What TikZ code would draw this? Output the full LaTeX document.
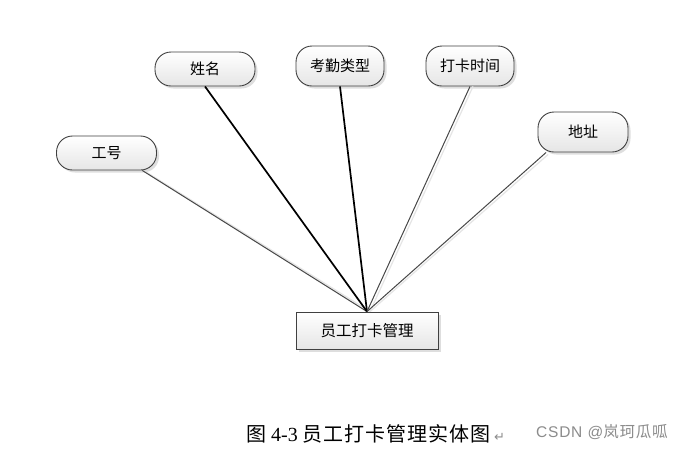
\documentclass[tikz,border=0pt]{standalone}
\usepackage{fontspec}
\setmainfont{Liberation Serif}
\newfontfamily\cjk{Noto Sans CJK SC}
\newfontfamily\wmfont{Liberation Sans}
\newfontfamily\symfont{DejaVu Sans}
\usetikzlibrary{shadows}
\begin{document}
\begin{tikzpicture}[x=1pt,y=-1pt,
  attr/.style={draw=black!75, line width=0.9pt, rounded corners=16pt,
    top color=white, bottom color=black!10, inner sep=0pt,
    font=\cjk\fontsize{15}{17}\selectfont,
    drop shadow={shadow xshift=2.5pt, shadow yshift=-2.5pt, fill=black!25, opacity=.5}},
  entity/.style={draw=black!75, line width=0.9pt, rectangle,
    top color=white, bottom color=black!10, inner sep=0pt,
    minimum width=142pt, minimum height=37pt,
    font=\cjk\fontsize{15.5}{17}\selectfont,
    drop shadow={shadow xshift=2.5pt, shadow yshift=-2.5pt, fill=black!25, opacity=.5}},
  thinlink/.style={draw=black!72, line width=1pt},
  thicklink/.style={draw=black, line width=1.7pt},
  shadowlink/.style={draw=black!10, line width=1.2pt}
]
\useasboundingbox (0,0) rectangle (687,448);
\fill[white] (0,0) rectangle (687,448);

\node[attr, minimum width=100pt, minimum height=34pt] (gh) at (106.5,153) {工号};
\node[attr, minimum width=100pt, minimum height=34pt] (xm) at (205,69) {姓名};
\node[attr, minimum width=88pt, minimum height=40pt] (kq) at (340,66) {考勤类型};
\node[attr, minimum width=88pt, minimum height=40pt] (dk) at (470,66) {打卡时间};
\node[attr, minimum width=90pt, minimum height=40pt] (dz) at (583,132) {地址};
\node[entity] (main) at (367,330.5) {员工打卡管理};

\coordinate (hub) at (main.north);

% light shadows of the connectors
\draw[shadowlink] ([xshift=3pt,yshift=-1pt]gh.-26) -- ([xshift=3pt]hub);
\draw[shadowlink] ([xshift=3pt]dk.south) -- ([xshift=3pt]hub);
\draw[shadowlink] ([xshift=2pt,yshift=-2pt]dz.209) -- ([xshift=3pt]hub);

\draw[thinlink] (gh.-26) -- (hub);
\draw[thicklink] (xm.south) -- (hub);
\draw[thicklink] (kq.south) -- (hub);
\draw[thinlink] (dk.south) -- (hub);
\draw[thinlink] (dz.209) -- (hub);

\node[anchor=west, inner sep=0pt, font=\fontsize{20}{22}\selectfont] (cap) at (246,434)
  {{\cjk 图} 4-3 {\cjk\addfontfeatures{LetterSpace=5} 员工打卡管理实体图}\,{\symfont\color{black!45}\fontsize{13}{15}\selectfont ↵}};
\node[anchor=west, inner sep=0pt, text=black!45, font=\fontsize{15.5}{17}\selectfont] (wm) at (536,432)
  {{\wmfont\addfontfeatures{LetterSpace=5} CSDN @}{\cjk\addfontfeatures{LetterSpace=5} 岚珂瓜呱}};
\end{tikzpicture}
\end{document}
